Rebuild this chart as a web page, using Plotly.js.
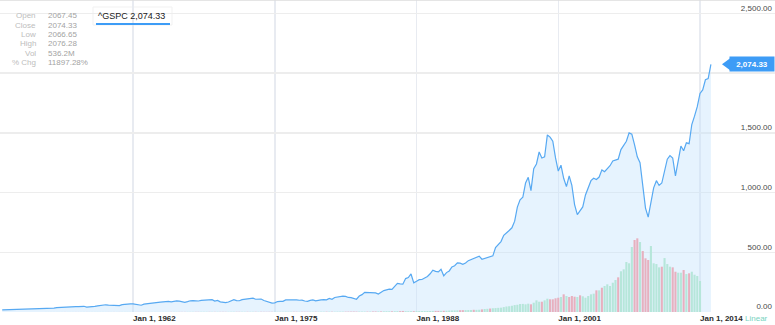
<!DOCTYPE html>
<html>
<head>
<meta charset="utf-8">
<script src="https://cdn.plot.ly/plotly-3.0.1.min.js"></script>
<style>html,body{margin:0;padding:0;background:#fff;}#chart{width:775px;height:325px;}</style>
</head>
<body>
<div id="chart"></div>
<script>
// ---- Data (quarterly, starting Jan 1950) ----
const startYear = 1950;
const closeValues = [
  17.29, 17.8, 17.8, 19.5,
  21.7, 22.0, 22.5, 22.9,
  24.1, 23.8, 25.0, 24.5,
  26.4, 24.8, 24.2, 24.5,
  26.1, 28.3, 30.9, 31.7,
  36.6, 38.0, 42.5, 42.3,
  43.8, 47.0, 48.0, 45.6,
  44.7, 45.7, 47.9, 41.1,
  41.7, 43.4, 47.2, 51.3,
  55.4, 57.6, 60.5, 57.5,
  55.6, 54.4, 56.5, 53.4,
  61.8, 65.3, 66.8, 68.6,
  68.8, 65.2, 58.2, 56.5,
  66.2, 69.8, 69.1, 74.0,
  77.0, 79.5, 83.2, 84.9,
  87.6, 89.1, 85.3, 92.4,
  92.9, 91.1, 83.6, 80.2,
  86.6, 94.0, 94.8, 93.3,
  92.2, 97.6, 97.7, 103.4,
  103.0, 103.7, 91.8, 97.1,
  85.0, 81.5, 78.1, 83.3,
  95.9, 103.9, 95.6, 94.2,
  103.9, 107.7, 107.4, 111.6,
  116.0, 106.9, 108.2, 108.3,
  96.6, 90.3, 79.3, 73.9,
  76.9, 87.3, 88.8, 89.0,
  100.9, 101.6, 103.4, 102.9,
  102.0, 98.4, 98.9, 92.3,
  89.3, 96.8, 100.7, 93.2,
  99.9, 101.8, 103.8, 101.8,
  114.2, 106.3, 121.7, 127.5,
  129.6, 132.8, 130.9, 121.9,
  120.4, 116.4, 107.1, 133.7,
  145.3, 164.4, 162.6, 163.6,
  163.4, 160.1, 150.7, 166.1,
  179.6, 185.0, 190.9, 189.8,
  211.8, 240.0, 236.1, 233.0,
  280.0, 288.4, 318.7, 244.0,
  257.1, 271.0, 272.0, 283.0,
  297.5, 320.0, 350.0, 340.4,
  336.0, 358.0, 303.0, 330.0,
  343.9, 378.0, 387.8, 411.0,
  408.8, 400.0, 411.0, 430.0,
  438.8, 450.0, 461.0, 467.8,
  442.0, 450.0, 458.3, 467.0,
  470.4, 540.0, 562.1, 590.0,
  642.0, 660.0, 683.0, 705.3,
  761.0, 878.0, 940.0, 961.0,
  1080, 1128, 1017, 1200,
  1240, 1340, 1290, 1300,
  1483, 1465, 1430, 1290,
  1180, 1230, 1120, 1050,
  1140, 1060, 900, 815,
  850, 880, 980, 1040,
  1100, 1120, 1110, 1130,
  1190, 1175, 1200, 1225,
  1265, 1270, 1280, 1360,
  1400, 1430, 1500, 1490,
  1400, 1300, 1250, 1050,
  870, 795, 930, 1040,
  1100, 1060, 1080, 1180,
  1280, 1310, 1290, 1140,
  1280, 1390, 1350, 1417,
  1410, 1570, 1640, 1720,
  1830, 1860, 1945, 1955,
  2074.33
];
// volume, millions
const volumeValues = [
  0.5, 0.5, 0.5, 0.6,   0.6, 0.6, 0.5, 0.6,   0.5, 0.5, 0.5, 0.5,   0.6, 0.5, 0.5, 0.5,
  0.7, 0.7, 0.8, 0.8,   0.9, 0.9, 0.9, 1.0,   0.9, 0.9, 0.9, 0.9,   0.9, 0.9, 1.0, 1.0,
  1.0, 1.0, 1.1, 1.2,   1.2, 1.1, 1.1, 1.1,   1.1, 1.0, 1.1, 1.2,   1.4, 1.5, 1.3, 1.3,
  1.3, 1.4, 1.5, 1.3,   1.5, 1.5, 1.5, 1.6,   1.6, 1.6, 1.6, 1.6,   1.8, 1.8, 1.9, 2.0,
  2.2, 2.3, 2.1, 2.2,   2.6, 2.8, 2.9, 3.0,   3.1, 3.5, 3.4, 3.6,   3.2, 3.1, 3.0, 3.3,
  3.0, 3.2, 3.0, 3.2,   3.6, 3.9, 3.4, 3.5,   3.8, 3.7, 3.5, 3.8,   3.7, 3.6, 3.4, 3.9,
  3.3, 3.2, 3.4, 3.6,   4.0, 4.2, 4.0, 3.8,   4.6, 4.3, 4.2, 4.1,   4.1, 4.0, 4.1, 4.3,
  4.3, 5.0, 4.8, 5.0,   4.8, 5.2, 5.1, 5.5,   5.8, 5.6, 5.4, 6.0,   6.3, 6.2, 6.0, 6.6,
  7.0, 7.4, 7.0, 7.6,   7.4, 7.3, 7.0, 7.8,   9.0, 9.5, 9.8, 10.2,  11.5, 12.5, 11.8, 12.0,
  13.5, 14.0, 14.5, 18.0,  14.0, 13.5, 13.8, 14.2,  15.0, 15.5, 15.8, 16.0,  17.5, 17.0, 18.5, 19.0,
  19.0, 20.5, 21.0, 22.0,  25.0, 27.0, 28.0, 29.5,  31.0, 32.0, 33.0, 34.5,  35.0, 38.0, 37.0, 39.0,
  45, 52, 55, 60,   65, 68, 72, 75,   85, 95, 100, 108,   120, 125, 138, 140,
  133, 144, 133, 161,
  202, 178, 178, 202,
  230, 220, 220, 237,
  247, 260, 306, 277,
  260, 277, 265, 260,
  289, 272, 247, 277,
  306, 317, 375, 375,
  420, 450, 479, 450,
  507, 554, 600, 705,
  739, 865, 843, 1125,
  1246, 1275, 1211, 1055,
  929, 900, 1142, 843,
  830, 773, 784, 934,
  830, 784, 773, 697,
  680, 680, 727, 657,
  670, 697, 645, 623,
  536.2
];
// up (u) / down (d) volume bars, one string per year
const volumeDir = [
  'uuuu','uuuu','udud','uddu','uuuu','uuud','uuud','duud','uuuu','uuud',
  'udud','uuuu','uddd','uudu','uuuu','uudu','uddd','uuud','duuu','dudu',
  'dddu','uudd','uudu','udud','dddd','uuuu','uuud','dudd','duud','uuud',
  'uduu','uudd','dddu','uudu','ddud','uuud','uudd','uuud','uuuu','uuud',
  'dudu','uuuu','dduu','uduu','duud','uuuu','uuuu','uuuu','uudu','uudu',
  'uddd','dudu','dddu','duuu','uudu','duuu','uudu','uuuu','ddud','dduu',
  'uudu','uudd','uudu','duuu','uuuu','u'
];
const xTickDates = ['1962-01-01', '1975-01-01', '1988-01-01', '2001-01-01', '2014-01-01'];
const xTickLabels = ['Jan 1, 1962', 'Jan 1, 1975', 'Jan 1, 1988', 'Jan 1, 2001', 'Jan 1, 2014'];
const yTickValues = [0, 500, 1000, 1500, 2000, 2500];
const symbol = '^GSPC';
const infoLabels = ['Open', 'Close', 'Low', 'High', 'Vol', '% Chg'];
const infoValues = ['2067.45', '2074.33', '2066.65', '2076.28', '536.2M', '11897.28%'];

// ---- Build ----
const months = ['01', '04', '07', '10'];
const dates = closeValues.map((_, i) => (startYear + Math.floor(i / 4)) + '-' + months[i % 4] + '-01');
const dirs = volumeDir.join('').split('');
const UP = '#b6e6da', DOWN = '#e7b0bf';
const lastClose = closeValues[closeValues.length - 1];
const fmt = v => v.toLocaleString('en-US', {minimumFractionDigits: 2, maximumFractionDigits: 2});

const W = 775, PH = 312;
const FONT = 'Liberation Sans, Arial, Helvetica, sans-serif';

const traces = [
  {
    x: dates, y: closeValues, type: 'scatter', mode: 'lines',
    line: {color: '#57a9f2', width: 1.2},
    fill: 'tozeroy', fillcolor: 'rgba(196,226,252,0.42)',
    hoverinfo: 'skip', yaxis: 'y'
  },
  {
    x: dates, y: volumeValues, type: 'bar', yaxis: 'y2',
    marker: {color: dirs.map(d => d === 'd' ? DOWN : UP), line: {width: 0}},
    hoverinfo: 'skip'
  }
];

const annotations = [];
infoLabels.forEach((lab, i) => {
  const ypx = 15.7 + 9.4 * i;
  annotations.push({xref: 'paper', yref: 'paper', x: 38 / W, y: 1 - ypx / PH, xanchor: 'right', yanchor: 'middle',
    text: lab, showarrow: false, font: {family: FONT, size: 8, color: '#bdbdbd'}});
  annotations.push({xref: 'paper', yref: 'paper', x: 46 / W, y: 1 - ypx / PH, xanchor: 'left', yanchor: 'middle',
    text: infoValues[i], showarrow: false, font: {family: FONT, size: 8, color: '#a3a3a3'}});
});
annotations.push({xref: 'paper', yref: 'paper', x: 96 / W, y: 1 - 15.5 / PH, xanchor: 'left', yanchor: 'middle',
  text: symbol + ' ' + fmt(lastClose), showarrow: false, font: {family: FONT, size: 9, color: '#1a1a1a'}});
annotations.push({xref: 'paper', yref: 'y', x: 1, y: lastClose, xanchor: 'right', yanchor: 'middle',
  text: fmt(lastClose), showarrow: false, bgcolor: '#3d9cf6', borderpad: 2, width: 40, height: 10,
  font: {family: FONT, size: 8, color: '#ffffff', weight: 'bold'}});
annotations.push({xref: 'paper', yref: 'paper', x: 1, y: 0, xanchor: 'right', yanchor: 'middle', xshift: -5, yshift: -6,
  text: 'Linear', showarrow: false, font: {family: FONT, size: 8, color: '#78d3c0'}});

const yUnitsPerPx = 2613 / PH;
const shapes = [
  {type: 'line', xref: 'paper', yref: 'paper', x0: 0, x1: 1, y0: 1, y1: 1, line: {color: '#dddddd', width: 1.5}},
  {type: 'rect', xref: 'paper', yref: 'paper', x0: 93 / W, x1: 172 / W, y0: 1 - 25 / PH, y1: 1 - 7 / PH,
    line: {color: '#f1f1f1', width: 1}, fillcolor: 'rgba(255,255,255,0.95)', layer: 'below'},
  {type: 'line', xref: 'paper', yref: 'paper', x0: 96 / W, x1: 170 / W, y0: 1 - 24 / PH, y1: 1 - 24 / PH,
    line: {color: '#3d9cf6', width: 2}},
  {type: 'path', xref: 'paper', yref: 'y',
    path: 'M ' + (722 / W) + ',' + lastClose + ' L ' + (731.5 / W) + ',' + (lastClose + 7 * yUnitsPerPx) +
          ' L ' + (731.5 / W) + ',' + (lastClose - 7 * yUnitsPerPx) + ' Z',
    fillcolor: '#3d9cf6', line: {width: 0}}
];

const layout = {
  width: 775, height: 325,
  margin: {l: 0, r: 0, t: 0, b: 13, pad: 0},
  paper_bgcolor: '#ffffff', plot_bgcolor: '#ffffff',
  showlegend: false, bargap: 0.22,
  xaxis: {
    type: 'date', range: ['1949-10-19', '2020-11-17'],
    tickmode: 'array', tickvals: xTickDates, ticktext: xTickLabels,
    ticklabelposition: 'outside right', ticks: '', showline: false, zeroline: false,
    showgrid: true, gridcolor: '#e8ebf1', gridwidth: 1.5, automargin: false,
    tickfont: {family: FONT, size: 8, color: '#2a2a2a', weight: 'bold'}
  },
  yaxis: {
    side: 'right', range: [0, 2613], tickmode: 'array', tickvals: yTickValues, tickformat: ',.2f',
    ticklabelposition: 'inside top', ticks: '', showline: false, zeroline: false,
    showgrid: true, gridcolor: '#ededed', gridwidth: 1.5, automargin: false,
    tickfont: {family: FONT, size: 8, color: '#4a4a4a'}
  },
  yaxis2: {overlaying: 'y', range: [0, 5400], visible: false, showgrid: false, zeroline: false},
  annotations: annotations,
  shapes: shapes
};

Plotly.newPlot('chart', traces, layout, {displayModeBar: false, staticPlot: true});
</script>
</body>
</html>
